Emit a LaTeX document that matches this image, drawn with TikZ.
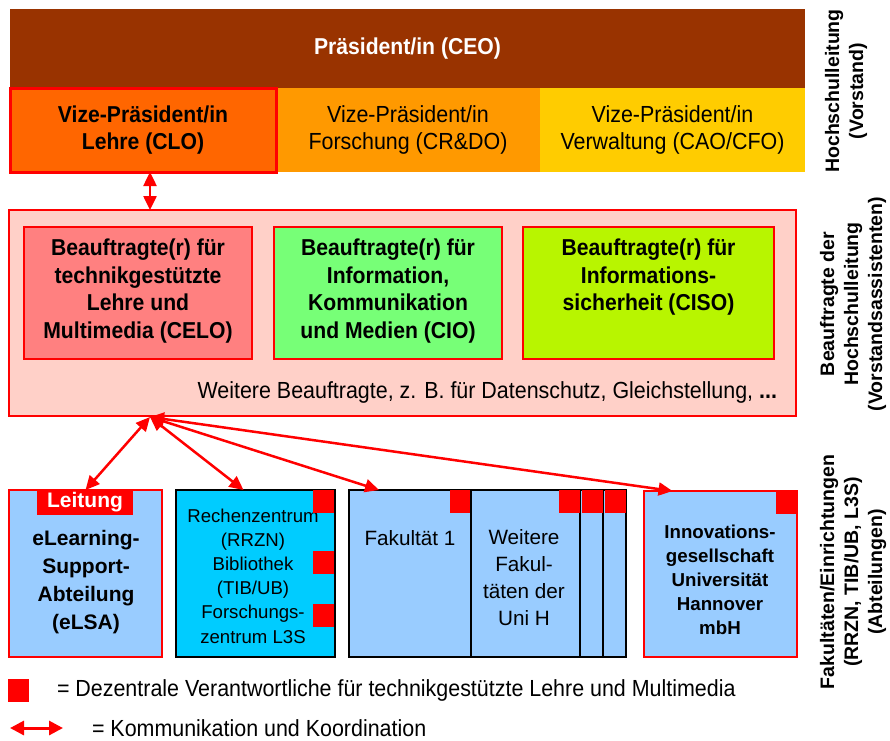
\documentclass[tikz,border=0pt]{standalone}
\usepackage{fontspec}
\setmainfont{Liberation Sans}
\newfontfamily\cond[FakeStretch=0.92]{Liberation Sans}
\usetikzlibrary{arrows.meta,calc}
\definecolor{ceoC}{HTML}{993300}
\definecolor{cloC}{HTML}{FF6600}
\definecolor{crdoC}{HTML}{FF9900}
\definecolor{caoC}{HTML}{FFCC00}
\definecolor{pinkC}{HTML}{FFD0C8}
\definecolor{celoC}{HTML}{FF8080}
\definecolor{cioC}{HTML}{77FF77}
\definecolor{cisoC}{HTML}{B8F500}
\definecolor{lblueC}{HTML}{99CCFF}
\definecolor{cyanC}{HTML}{00CCFF}
\begin{document}
\begin{tikzpicture}[x=1pt,y=-1pt,
  cell/.style={inner sep=0pt, outer sep=0pt, align=center},
  redline/.style={draw=red, line width=2.5pt},
  blkline/.style={draw=black, line width=2.5pt},
  ct/.style={font=\cond\fontsize{23.3}{27.6}\selectfont},
  cb/.style={font=\cond\bfseries\fontsize{23}{27.6}\selectfont},
  rb21/.style={font=\bfseries\fontsize{21}{28}\selectfont},
  rr21/.style={font=\fontsize{20.7}{27}\selectfont},
  rr19/.style={font=\fontsize{18.6}{24.2}\selectfont},
  rb19/.style={font=\bfseries\fontsize{18.7}{24}\selectfont},
  sq/.style={fill=red, inner sep=0pt, outer sep=0pt, minimum width=21pt, minimum height=23pt},
  dbl/.style={draw=red, line width=2.5pt, {Triangle[length=14pt,width=13pt]}-{Triangle[length=14pt,width=13pt]}},
  side/.style={font=\bfseries\fontsize{19.5}{24}\selectfont, align=center, rotate=90, inner sep=0pt}
]
\useasboundingbox (0,0) rectangle (890,740);

% ---- Hochschulleitung ----
\node[cell, fill=ceoC, minimum width=795pt, minimum height=79pt, text=white, cb] (ceo) at (407.5,48.5) {Präsident/in (CEO)};
\node[cell, fill=crdoC, minimum width=264pt, minimum height=84pt, ct] (crdo) at (408,130) {Vize-Präsident/in\\Forschung (CR\&DO)};
\node[cell, fill=caoC, minimum width=265pt, minimum height=84pt, ct] (cao) at (672.5,130) {Vize-Präsident/in\\Verwaltung (CAO/CFO)};
\node[cell, fill=cloC, draw=red, line width=3pt, minimum width=266pt, minimum height=84pt, cb] (clo) at (143,130) {Vize-Präsident/in\\Lehre (CLO)};

% ---- Beauftragte ----
\node[cell, fill=pinkC, redline, minimum width=787pt, minimum height=206pt] (pink) at (402.5,313) {};
\node[cell, fill=celoC, redline, minimum width=228pt, minimum height=132pt] (celo) at (138,293) {};
\node[cell, fill=cioC, redline, minimum width=228pt, minimum height=132pt] (cio) at (388,293) {};
\node[cell, fill=cisoC, redline, minimum width=251pt, minimum height=132pt] (ciso) at (648.5,293) {};
\node[cell, cb, anchor=north] (celoT) at (138,239) {Beauftragte(r) für\\technikgestützte\\Lehre und\\Multimedia (CELO)};
\node[cell, cb, anchor=north] (cioT) at (388,239) {Beauftragte(r) für\\Information,\\Kommunikation\\und Medien (CIO)};
\node[cell, cb, anchor=north] (cisoT) at (648.5,239) {Beauftragte(r) für\\Informations-\\sicherheit (CISO)};
\node[cell, ct, anchor=base east] (weit) at (777,398) {Weitere Beauftragte, z. B. für Datenschutz, Gleichstellung, \textbf{...}};

% ---- Fakultaeten / Einrichtungen ----
\node[cell, fill=lblueC, redline, minimum width=153pt, minimum height=167pt] (elsa) at (85.5,573.5) {};
\node[cell, fill=red, minimum width=96pt, minimum height=25pt, text=white, rb21] (leit) at (85,502.5) {Leitung};
\node[cell, rb21] (elsaT) at (86,582) {eLearning-\\Support-\\Abteilung\\(eLSA)};

\node[cell, fill=cyanC, blkline, minimum width=159pt, minimum height=167pt] (rz) at (255.5,573.5) {};
\node[cell, rr19] (rzT) at (253,576) {Rechenzentrum\\(RRZN)\\Bibliothek\\(TIB/UB)\\Forschungs-\\zentrum L3S};
\node[sq] (sqrz1) at (323.5,501.5) {};
\node[sq] (sqrz2) at (323.5,562) {};
\node[sq] (sqrz3) at (323.5,615.5) {};

\node[cell, fill=lblueC, blkline, minimum width=122pt, minimum height=167pt] (fak) at (410,573.5) {};
\node[cell, rr21] (fakT) at (410,538) {Fakultät 1};
\node[sq] (sqfak) at (460.5,501.5) {};

\node[cell, fill=lblueC, blkline, minimum width=155pt, minimum height=167pt] (wf3) at (548.5,573.5) {};
\node[cell, fill=lblueC, blkline, minimum width=132pt, minimum height=167pt] (wf2) at (537,573.5) {};
\node[cell, fill=lblueC, blkline, minimum width=109pt, minimum height=167pt] (wf1) at (525.5,573.5) {};
\node[cell, rr21] (wfT) at (524,578) {Weitere\\Fakul-\\täten der\\Uni H};
\node[sq] (sqwf1) at (569.5,501.5) {};
\node[sq] (sqwf2) at (592.5,501.5) {};
\node[sq] (sqwf3) at (615,501.5) {};

\node[cell, fill=lblueC, redline, minimum width=153pt, minimum height=166pt] (inno) at (720.5,574) {};
\node[cell, rb19] (innoT) at (720,580) {Innovations-\\gesellschaft\\Universität\\Hannover\\mbH};
\node[sq] (sqin) at (786,502) {};

% ---- connectors ----
\coordinate (hub) at (150,417);
\draw[dbl] (clo.south -| hub) -- (pink.north -| hub);
\draw[dbl] (hub) -- (elsa.north);
\draw[dbl] (hub) -- ($(rz.north)+(-12,0)$);
\draw[dbl] (hub) -- ($(fak.north)+(-31,0)$);
\draw[dbl] (hub) -- ($(inno.north)+(-48,0)$);

% ---- side labels ----
\node[side] (lab1) at (846,91) {Hochschulleitung\\(Vorstand)};
\node[side] (lab2) at (853,304) {Beauftragte der\\Hochschulleitung\\(Vorstandsassistenten)};
\node[side] (lab3) at (853,572) {Fakultäten/Einrichtungen\\(RRZN, TIB/UB, L3S)\\(Abteilungen)};

% ---- legend ----
\node[sq] (legsq) at (18.5,690) {};
\node[cell, ct, anchor=west] (leg1) at (57,690) {= Dezentrale Verantwortliche für technikgestützte Lehre und Multimedia};
\coordinate (legA) at (10,728);
\coordinate (legB) at (63,728);
\draw[draw=red, line width=3pt, {Triangle[length=14pt,width=14pt]}-{Triangle[length=14pt,width=14pt]}] (legA) -- (legB);
\node[cell, ct, anchor=west] (leg2) at (92,728) {= Kommunikation und Koordination};
\end{tikzpicture}
\end{document}
